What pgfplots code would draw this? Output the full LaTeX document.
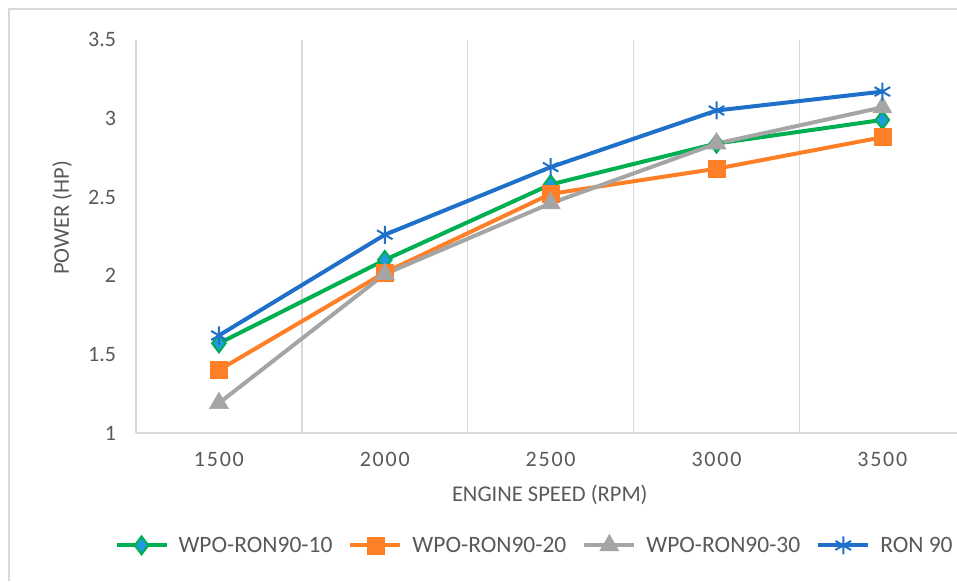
\documentclass[border=0pt]{standalone}
\usepackage{pgfplots}
\pgfplotsset{compat=1.18}
\usepackage{fontspec}
\setmainfont{Carlito}
\newfontfamily\spaced[LetterSpace=8]{Carlito}
\definecolor{cgreen}{HTML}{00B050}
\definecolor{cdfill}{HTML}{1F9BDB}
\definecolor{corange}{HTML}{FF7F27}
\definecolor{cgray}{HTML}{A5A5A5}
\definecolor{cblue}{HTML}{1F70C8}
\definecolor{gridgray}{HTML}{D9D9D9}
\definecolor{textgray}{HTML}{595959}
\begin{document}
\begin{tikzpicture}
\draw[gridgray, line width=1.3pt] (9pt,0pt) -- (9pt,572pt) -- (957pt,572pt);
\begin{axis}[
  at={(136pt,148pt)}, anchor=south west,
  scale only axis, width=821pt, height=393.3pt,
  xmin=-0.5, xmax=4.45, ymin=1, ymax=3.5,
  xtick={0,1,2,3,4},
  xticklabels={1500,2000,2500,3000,3500},
  ytick={1,1.5,2,2.5,3,3.5},
  yticklabels={1,1.5,2,2.5,3,3.5},
  minor xtick={0.5,1.5,2.5,3.5},
  xminorgrids=true,
  minor grid style={gridgray, line width=1.3pt},
  major tick length=0pt, minor tick length=0pt,
  axis x line*=bottom, axis y line*=left,
  axis line style={gridgray, line width=1.3pt, -},
  tick label style={font=\fontsize{22}{26}\selectfont, text=textgray},
  xticklabel style={yshift=-15.5pt, font=\fontsize{22}{26}\selectfont\spaced},
  yticklabel style={xshift=-16.5pt},
  xlabel={ENGINE SPEED (RPM)},
  ylabel={POWER (HP)},
  label style={font=\fontsize{22.5}{26}\selectfont, text=textgray},
  xlabel style={at={(axis description cs:0.504,-0.158)}, anchor=center},
  ylabel style={at={(axis description cs:-0.090,0.547)}, anchor=center},
  legend columns=4,
  legend style={draw=none, fill=none, font=\fontsize{23.5}{27}\selectfont, text=textgray,
    at={(axis description cs:0.4855,-0.285)}, anchor=center,
    /tikz/every odd column/.append style={column sep=8pt},
    /tikz/every even column/.append style={column sep=14pt}},
  legend image code/.code={
    \draw[mark repeat=2, mark phase=2] plot coordinates {(0pt,0pt) (25pt,0pt) (50pt,0pt)};
  },
  every axis plot/.append style={line width=4pt},
]
\addplot[cgreen, mark=diamond*, mark size=9pt, mark options={fill=cdfill, draw=cgreen, line width=2pt}]
  coordinates {(0,1.57) (1,2.10) (2,2.58) (3,2.84) (4,2.99)};
\addlegendentry{WPO-RON90-10}
\addplot[corange, mark=square*, mark size=8.5pt, mark options={fill=corange, draw=corange, line width=0.5pt}]
  coordinates {(0,1.40) (1,2.02) (2,2.52) (3,2.68) (4,2.88)};
\addlegendentry{WPO-RON90-20}
\addplot[cgray, mark=triangle*, mark size=11pt, mark options={fill=cgray, draw=cgray, line width=0.5pt}]
  coordinates {(0,1.19) (1,2.01) (2,2.46) (3,2.84) (4,3.07)};
\addlegendentry{WPO-RON90-30}
\addplot[cblue, mark=asterisk, mark size=9pt, mark options={draw=cblue, line width=2pt}]
  coordinates {(0,1.62) (1,2.26) (2,2.69) (3,3.05) (4,3.17)};
\addlegendentry{RON 90}
\end{axis}
\pgfresetboundingbox
\path[use as bounding box] (0pt,0pt) rectangle (957pt,581pt);
\end{tikzpicture}
\end{document}
